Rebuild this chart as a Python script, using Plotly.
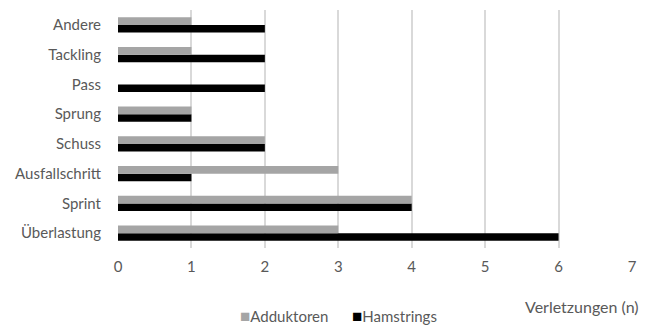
import plotly.graph_objects as go

categories = ["Überlastung", "Sprint", "Ausfallschritt", "Schuss", "Sprung", "Pass", "Tackling", "Andere"]
adduktoren = [3, 4, 3, 2, 1, 0, 1, 1]
hamstrings = [6, 4, 1, 2, 1, 2, 2, 2]
x_ticks = [0, 1, 2, 3, 4, 5, 6, 7]

FONT = "Lato"
TXT = "#595959"
C_ADD = "#a5a5a5"
C_HAM = "#000000"

fig = go.Figure()
fig.add_trace(go.Bar(y=categories, x=hamstrings, name="Hamstrings", orientation="h",
                     marker=dict(color=C_HAM, line=dict(width=0))))
fig.add_trace(go.Bar(y=categories, x=adduktoren, name="Adduktoren", orientation="h",
                     marker=dict(color=C_ADD, line=dict(width=0))))

fig.update_layout(
    width=646, height=327,
    margin=dict(l=118, r=14, t=10, b=79),
    paper_bgcolor="white", plot_bgcolor="white",
    barmode="group", bargap=0.49, bargroupgap=0,
    font=dict(family=FONT, size=15, color=TXT),
    showlegend=False,
    xaxis=dict(range=[0, 7], tickvals=x_ticks, showgrid=True, gridcolor="#d9d9d9", gridwidth=2,
               zeroline=False, showline=False, ticks="",
               ticklabelstandoff=8, tickfont=dict(size=15, color=TXT), fixedrange=True,
               automargin=False),
    yaxis=dict(type="category", categoryorder="array", categoryarray=categories,
               showgrid=False, zeroline=False, showline=False, ticks="",
               ticklabelstandoff=16, tickfont=dict(size=15, color=TXT), automargin=False,
               fixedrange=True),
    annotations=[
        dict(text="Verletzungen (n)", xref="paper", yref="paper", x=1.0175, y=-0.244,
             xanchor="right", yanchor="middle", showarrow=False,
             font=dict(size=16, color=TXT)),
        dict(text=f"<span style='color:{C_ADD};font-size:17px'>■</span>Adduktoren",
             xref="paper", yref="paper",
             x=0.234, y=-0.285, xanchor="left", yanchor="middle", showarrow=False,
             font=dict(size=15, color=TXT)),
        dict(text=f"<span style='color:{C_HAM};font-size:17px'>■</span>Hamstrings",
             xref="paper", yref="paper",
             x=0.451, y=-0.285, xanchor="left", yanchor="middle", showarrow=False,
             font=dict(size=15, color=TXT)),
    ],
)

fig.write_html("out.html", config={"displayModeBar": False},
               post_script="document.body.style.margin='0';document.body.style.overflow='hidden';")
